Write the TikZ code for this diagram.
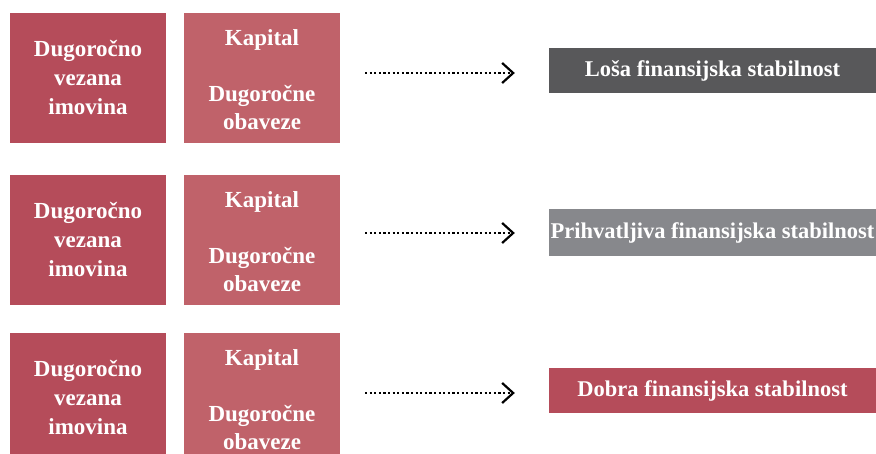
\documentclass[tikz,border=0pt]{standalone}
\usepackage{fontspec}
\setmainfont{Liberation Serif}
\usetikzlibrary{arrows.meta}
\definecolor{rose}{RGB}{181,76,90}
\definecolor{roselight}{RGB}{192,98,106}
\definecolor{slate}{RGB}{88,88,90}
\definecolor{ash}{RGB}{135,136,140}
\begin{document}
\begin{tikzpicture}[x=1pt,y=-1pt,
  box/.style={fill=#1, text=white, inner sep=0pt, minimum width=156pt,
    minimum height=130pt, align=center,
    font=\bfseries\fontsize{23}{29}\selectfont},
  boxtext/.style={text=white, inner sep=0pt, align=center,
    font=\bfseries\fontsize{23}{28}\selectfont},
  result/.style={fill=#1, text=white, inner sep=0pt, minimum width=327pt,
    minimum height=45pt, font=\bfseries\fontsize{22.5}{26}\selectfont},
  flow/.style={line width=2.2pt, dash pattern=on 2.2pt off 2.4pt,
    -{Straight Barb[length=11pt,width=20pt]}, shorten >=34pt}]
\useasboundingbox (0,0) rectangle (876,454);
\clip (0,0) rectangle (876,454);

% balance-sheet pairs, one per row
\foreach \r/\y in {1/78, 2/240, 3/398} {
  \node[box=rose] (assets\r) at (88,\y) {Dugoročno\\vezana\\imovina};
  \node[box=roselight] (funds\r) at (262,\y) {};
  \node[boxtext] (fundstext\r) at ([yshift=-2pt]funds\r.center) {Kapital\\[28pt]Dugoročne\\obaveze};
}

% verdicts
\node[result=slate] (res1) at (712.5,70.5) {\raisebox{-1.5pt}{Loša finansijska stabilnost}};
\node[result=ash, minimum height=47pt] (res2) at (712.5,232.5) {\raisebox{-1.5pt}{Prihvatljiva finansijska stabilnost}};
\node[result=rose] (res3) at (712.5,390.5) {\raisebox{-1.5pt}{Dobra finansijska stabilnost}};

% dotted arrows leading to each verdict
\coordinate (s1) at (365,73);
\coordinate (s2) at (365,233);
\coordinate (s3) at (365,393);
\draw[flow] (s1) -- (s1 -| res1.west);
\draw[flow] (s2) -- (s2 -| res2.west);
\draw[flow] (s3) -- (s3 -| res3.west);
\end{tikzpicture}
\end{document}
